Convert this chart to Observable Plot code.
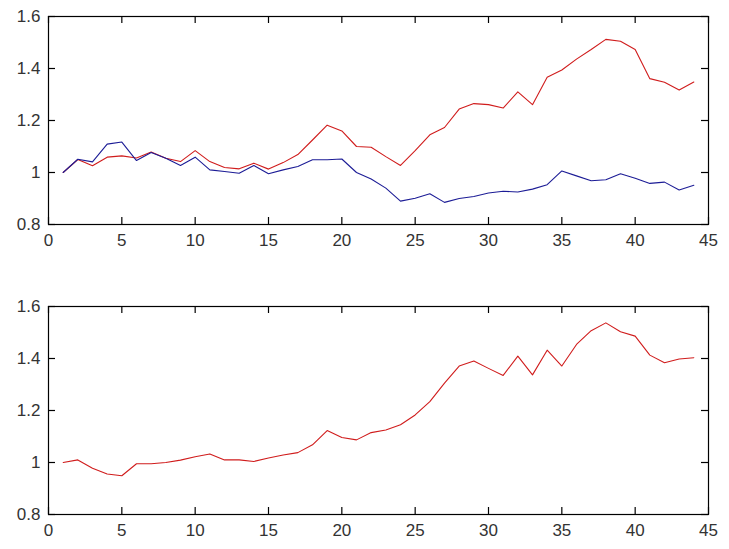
<!DOCTYPE html>
<html><head><meta charset="utf-8">
<script src="https://cdn.jsdelivr.net/npm/d3@7"></script>
<script src="https://cdn.jsdelivr.net/npm/@observablehq/plot@0.6"></script>
<style>
body{margin:0;background:#fff;width:729px;height:549px;overflow:hidden}
#c svg{display:block}
</style>
</head><body><div id="c"></div>
<script>
const steps = [1,2,3,4,5,6,7,8,9,10,11,12,13,14,15,16,17,18,19,20,21,22,23,24,25,26,27,28,29,30,31,32,33,34,35,36,37,38,39,40,41,42,43,44];
const topRed = [1.0,1.05,1.026,1.059,1.064,1.056,1.079,1.055,1.042,1.084,1.042,1.019,1.014,1.036,1.013,1.038,1.069,1.125,1.182,1.16,1.1,1.097,1.061,1.027,1.084,1.145,1.173,1.244,1.265,1.261,1.248,1.31,1.261,1.366,1.394,1.436,1.473,1.512,1.505,1.473,1.361,1.347,1.317,1.348];
const topBlue = [1.0,1.051,1.041,1.109,1.117,1.046,1.077,1.055,1.027,1.059,1.01,1.004,0.997,1.027,0.995,1.01,1.023,1.049,1.049,1.052,1.0,0.975,0.94,0.89,0.901,0.918,0.885,0.9,0.908,0.921,0.928,0.925,0.936,0.953,1.006,0.987,0.968,0.972,0.995,0.978,0.958,0.963,0.933,0.951];
const bottomRed = [1.0,1.01,0.978,0.956,0.949,0.995,0.995,1.0,1.009,1.022,1.033,1.01,1.01,1.004,1.017,1.029,1.038,1.068,1.123,1.096,1.087,1.115,1.125,1.145,1.183,1.234,1.305,1.371,1.39,1.362,1.335,1.409,1.337,1.432,1.371,1.454,1.507,1.537,1.503,1.486,1.413,1.384,1.398,1.403];
const xTicks = [0,5,10,15,20,25,30,35,40,45];
const yTicks = [0.8,1,1.2,1.4,1.6];
const yTickLabels = ["0.8","1","1.2","1.4","1.6"];

const RED = "#d01c1c";
const BLUE = "#1c1c96";
const W = 729, ML = 48, MR = 21, MT = 16, TICK = 7;

function panel(series, height, marginBottom) {
  const fmtY = (d) => yTickLabels[yTicks.indexOf(d)];
  const innerW = W - ML - MR;
  const innerH = height - MT - marginBottom;
  const marks = [];
  for (const s of series) {
    marks.push(Plot.lineY(s.values, {x: steps, stroke: s.color, strokeWidth: 1.1}));
  }
  marks.push(
    // inward tick marks on all four sides
    Plot.tickX(xTicks, {x: (d) => d, insetTop: innerH - TICK, stroke: "black", strokeWidth: 1.2}),
    Plot.tickX(xTicks, {x: (d) => d, insetBottom: innerH - TICK, stroke: "black", strokeWidth: 1.2}),
    Plot.tickY(yTicks, {y: (d) => d, insetRight: innerW - TICK, stroke: "black", strokeWidth: 1.2}),
    Plot.tickY(yTicks, {y: (d) => d, insetLeft: innerW - TICK, stroke: "black", strokeWidth: 1.2}),
    Plot.axisX(xTicks, {anchor: "bottom", tickSize: 0, tickPadding: 9, tickFormat: (d) => String(d), label: null, fill: "#333"}),
    Plot.axisY(yTicks, {anchor: "left", tickSize: 0, tickPadding: 8, tickFormat: fmtY, label: null, fill: "#333"}),
    Plot.frame({stroke: "black", strokeWidth: 1.2})
  );
  return Plot.plot({
    width: W,
    height,
    marginTop: MT,
    marginBottom,
    marginLeft: ML,
    marginRight: MR,
    x: {domain: [0, 45]},
    y: {domain: [0.8, 1.6]},
    style: {fontFamily: "'Liberation Sans', Arial, sans-serif", fontSize: "17px", background: "white"},
    marks
  });
}

const c = document.getElementById("c");
c.appendChild(panel([{values: topRed, color: RED}, {values: topBlue, color: BLUE}], 290, 66));
c.appendChild(panel([{values: bottomRed, color: RED}], 259, 35));
</script>
</body></html>
